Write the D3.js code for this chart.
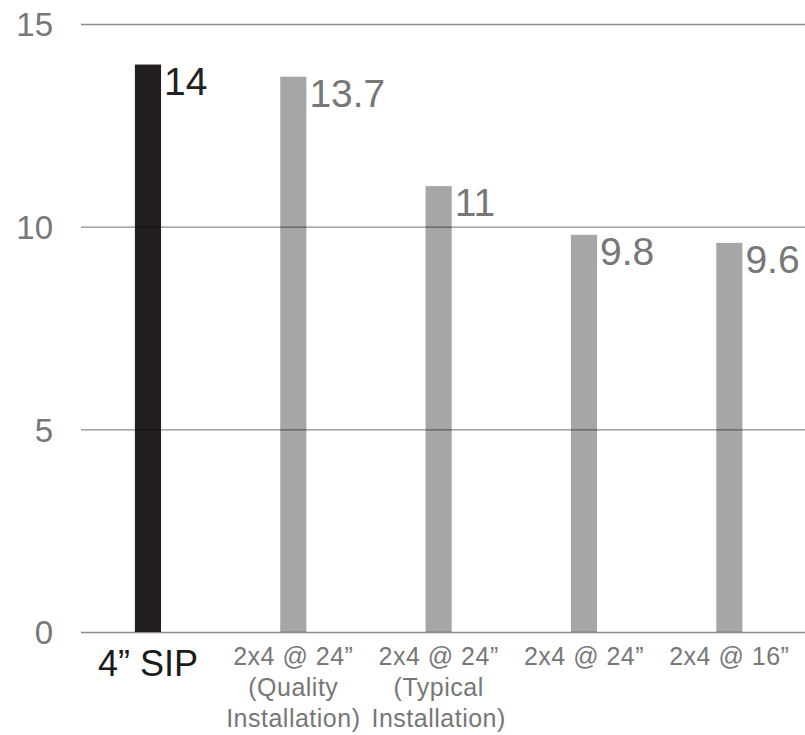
<!DOCTYPE html>
<html>
<head>
<meta charset="utf-8">
<script src="https://cdn.jsdelivr.net/npm/d3@7"></script>
<style>
  html, body { margin: 0; padding: 0; background: #fff; }
  svg { display: block; }
  text { font-family: "Liberation Sans", Arial, Helvetica, sans-serif; }
</style>
</head>
<body>
<svg id="chart" width="805" height="735"></svg>
<script>
// Wall assembly R-values
const categories = ["sip", "q24", "t24", "w24", "w16"];
const categoryLines = [
  ["4\u201D SIP"],
  ["2x4 @ 24\u201D", "(Quality", "Installation)"],
  ["2x4 @ 24\u201D", "(Typical", "Installation)"],
  ["2x4 @ 24\u201D"],
  ["2x4 @ 16\u201D"]
];
const rValues = [14, 13.7, 11, 9.8, 9.6];
const valueLabels = ["14", "13.7", "11", "9.8", "9.6"];
const yTicks = [0, 5, 10, 15];
const highlighted = [true, false, false, false, false];

const svg = d3.select("#chart");

const x = d3.scaleBand()
  .domain(categories)
  .range([75.3, 802])
  .paddingInner(0.82)
  .paddingOuter(0.41);

const y = d3.scaleLinear()
  .domain([0, 15])
  .range([632, 24]);

const gridLeft = 81, gridRight = 805;

// Bars
svg.append("g")
  .selectAll("rect")
  .data(rValues)
  .join("rect")
  .attr("x", (d, i) => x(categories[i]))
  .attr("y", d => y(d))
  .attr("width", x.bandwidth())
  .attr("height", d => y(0) - y(d))
  .attr("fill", (d, i) => highlighted[i] ? "#231f20" : "#a6a6a6");

// Horizontal gridlines drawn over the bars (darken what lies beneath)
const yAxis = d3.axisLeft(y)
  .tickValues(yTicks)
  .tickSize(gridLeft - gridRight)
  .tickPadding(gridLeft - 53)
  .tickFormat(d3.format("d"));

const yg = svg.append("g")
  .attr("transform", `translate(${gridLeft},0)`)
  .call(yAxis);
yg.select(".domain").remove();
yg.selectAll(".tick line")
  .attr("x2", gridRight - gridLeft)
  .attr("stroke", "#000")
  .attr("stroke-opacity", 0.45)
  .attr("stroke-width", 1.4);
yg.selectAll(".tick text")
  .attr("fill", "#777")
  .attr("font-size", 33)
  .attr("dy", "0.36em")
  .attr("font-family", "'Liberation Sans', Arial, sans-serif");

// Value labels beside each bar
svg.append("g")
  .selectAll("text")
  .data(rValues)
  .join("text")
  .attr("x", (d, i) => x(categories[i]) + x.bandwidth() + 3)
  .attr("y", d => y(d) + 30)
  .attr("font-size", 39)
  .attr("fill", (d, i) => highlighted[i] ? "#222" : "#777")
  .text((d, i) => valueLabels[i]);

// Category labels below the baseline
const cat = svg.append("g")
  .selectAll("text")
  .data(categories)
  .join("text")
  .attr("text-anchor", "middle")
  .attr("fill", (d, i) => highlighted[i] ? "#1a1a1a" : "#777")
  .attr("font-size", (d, i) => highlighted[i] ? 36 : 25)
  .attr("letter-spacing", (d, i) => highlighted[i] ? 0 : 0.5)
  .attr("y", (d, i) => highlighted[i] ? 676 : 665);

cat.each(function(d, i) {
  const t = d3.select(this);
  const cx = x(d) + x.bandwidth() / 2;
  categoryLines[i].forEach((line, k) => {
    t.append("tspan")
      .attr("x", cx)
      .attr("dy", k === 0 ? 0 : 31)
      .text(line);
  });
});
</script>
</body>
</html>
